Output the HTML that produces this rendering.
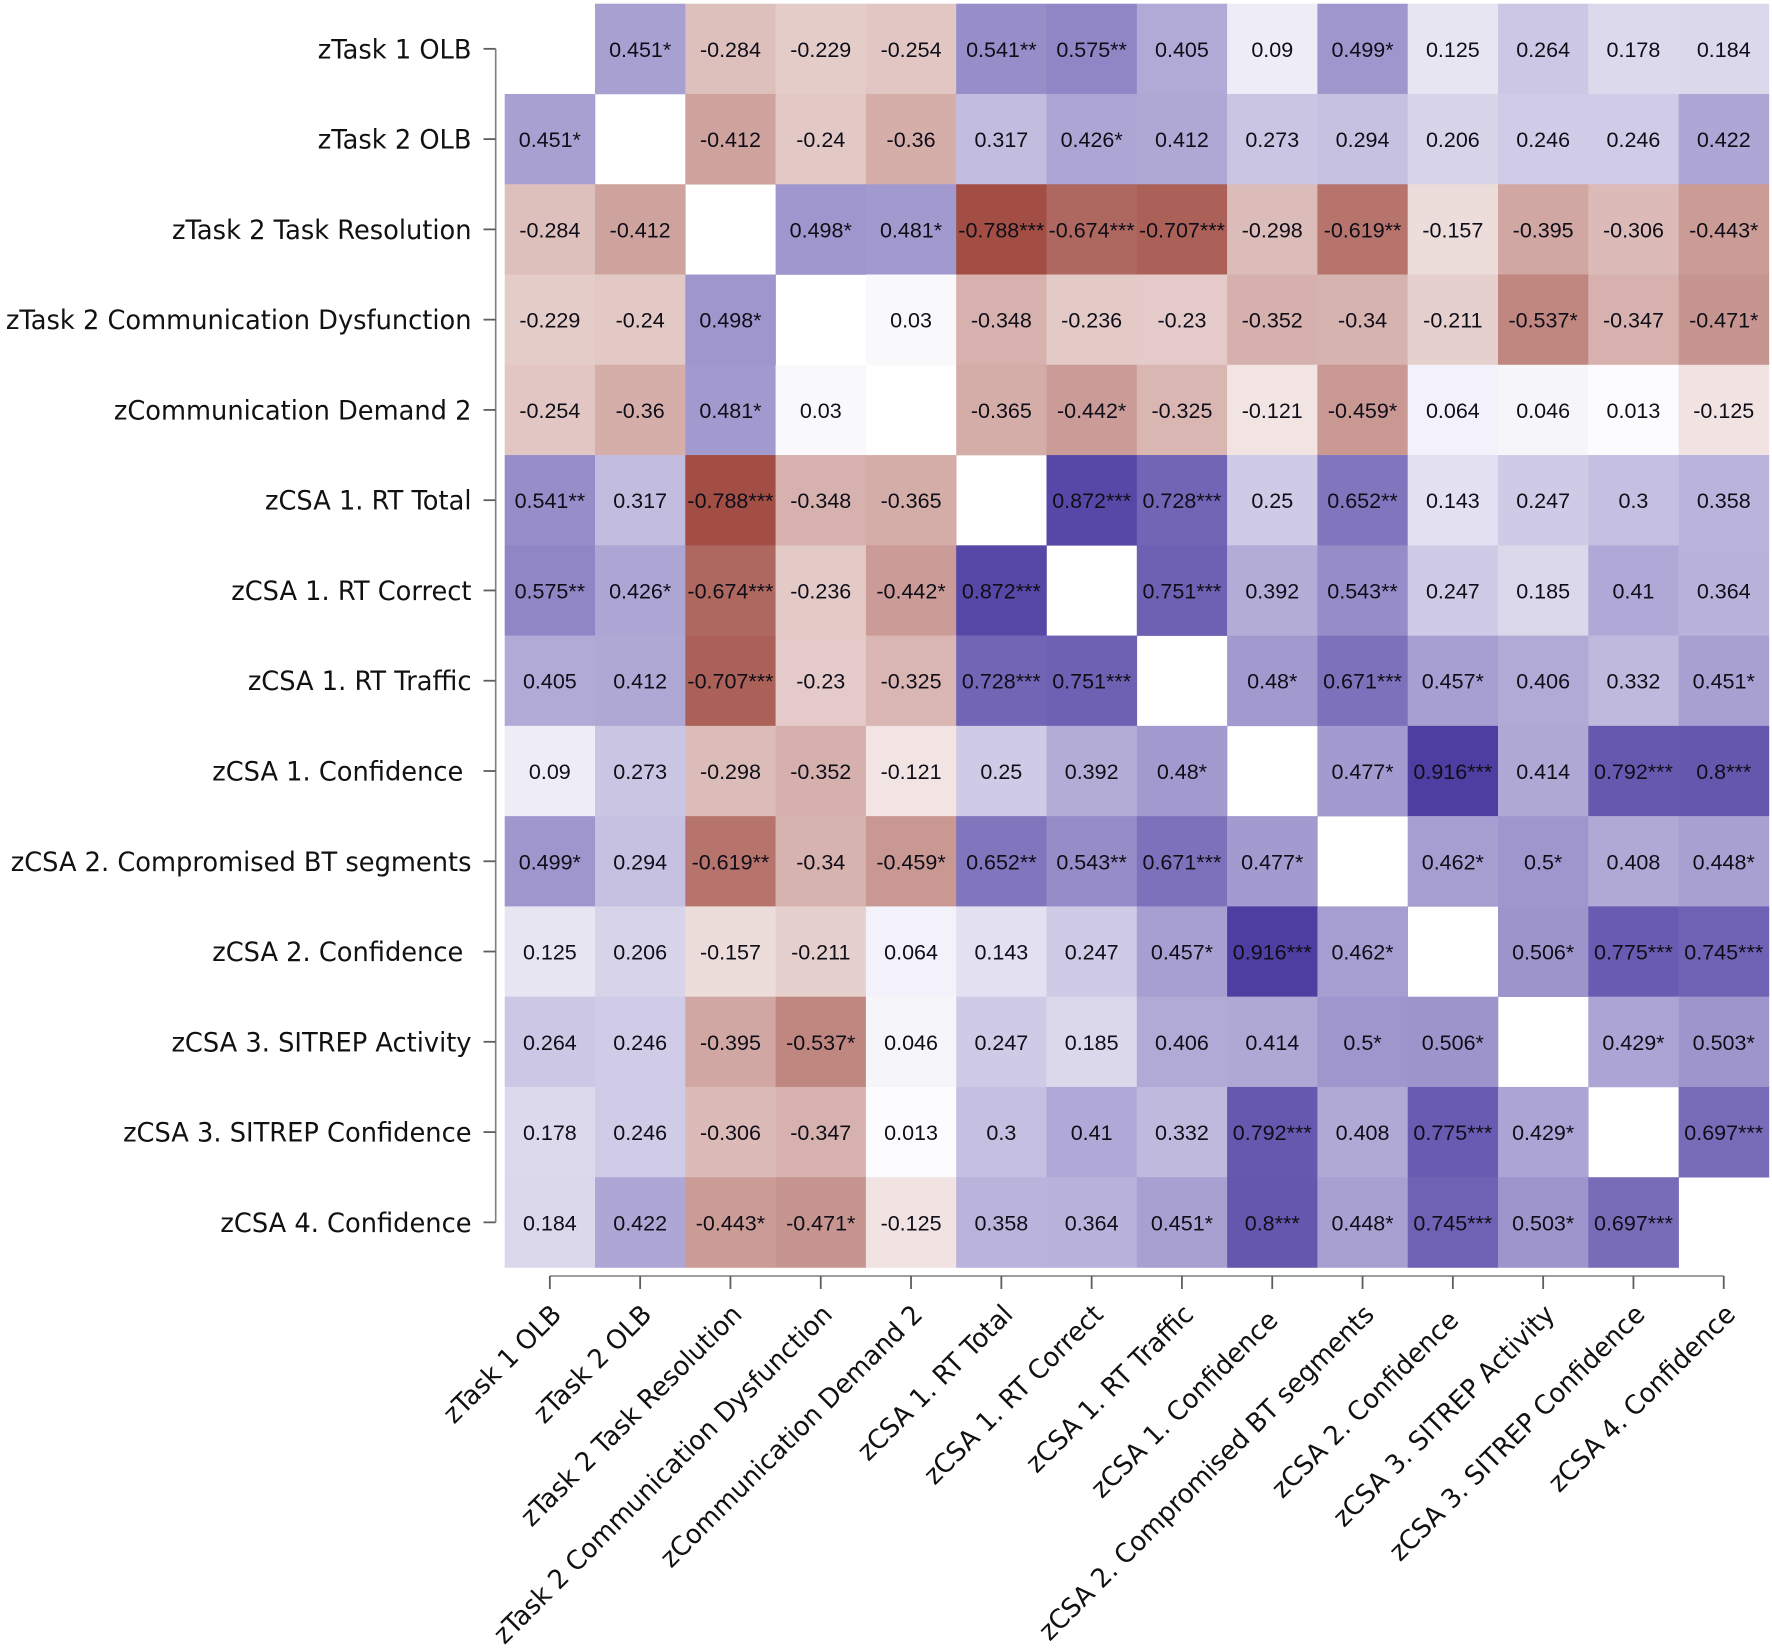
<!DOCTYPE html>
<html lang="en">
<head>
<meta charset="utf-8">
<title>Correlation heatmap</title>
<style>
html,body{margin:0;padding:0;background:#fff;}
svg{display:block;}
.cell-text{font-family:"Liberation Sans",Arial,sans-serif;font-size:21.5px;fill:#0f0e18;text-anchor:middle;}
.axis-label{font-family:"DejaVu Sans",sans-serif;font-size:26.5px;fill:#111;text-anchor:end;white-space:pre;}
</style>
</head>
<body>
<svg id="chart" xmlns="http://www.w3.org/2000/svg" width="1772" height="1649" viewBox="0 0 1772 1649">
  <rect width="1772" height="1649" fill="#ffffff"/>
  <g id="cells"></g>
  <g id="yaxis"></g>
  <g id="xaxis"></g>
</svg>
<script>
const rowLabels = ["zTask 1 OLB","zTask 2 OLB","zTask 2 Task Resolution","zTask 2 Communication Dysfunction","zCommunication Demand 2","zCSA 1. RT Total","zCSA 1. RT Correct","zCSA 1. RT Traffic","zCSA 1. Confidence ","zCSA 2. Compromised BT segments","zCSA 2. Confidence ","zCSA 3. SITREP Activity","zCSA 3. SITREP Confidence","zCSA 4. Confidence"];
const columnLabels = ["zTask 1 OLB","zTask 2 OLB","zTask 2 Task Resolution","zTask 2 Communication Dysfunction","zCommunication Demand 2","zCSA 1. RT Total","zCSA 1. RT Correct","zCSA 1. RT Traffic","zCSA 1. Confidence ","zCSA 2. Compromised BT segments","zCSA 2. Confidence ","zCSA 3. SITREP Activity","zCSA 3. SITREP Confidence","zCSA 4. Confidence"];
const cellValues = [
[null,0.451,-0.284,-0.229,-0.254,0.541,0.575,0.405,0.09,0.499,0.125,0.264,0.178,0.184],
[0.451,null,-0.412,-0.24,-0.36,0.317,0.426,0.412,0.273,0.294,0.206,0.246,0.246,0.422],
[-0.284,-0.412,null,0.498,0.481,-0.788,-0.674,-0.707,-0.298,-0.619,-0.157,-0.395,-0.306,-0.443],
[-0.229,-0.24,0.498,null,0.03,-0.348,-0.236,-0.23,-0.352,-0.34,-0.211,-0.537,-0.347,-0.471],
[-0.254,-0.36,0.481,0.03,null,-0.365,-0.442,-0.325,-0.121,-0.459,0.064,0.046,0.013,-0.125],
[0.541,0.317,-0.788,-0.348,-0.365,null,0.872,0.728,0.25,0.652,0.143,0.247,0.3,0.358],
[0.575,0.426,-0.674,-0.236,-0.442,0.872,null,0.751,0.392,0.543,0.247,0.185,0.41,0.364],
[0.405,0.412,-0.707,-0.23,-0.325,0.728,0.751,null,0.48,0.671,0.457,0.406,0.332,0.451],
[0.09,0.273,-0.298,-0.352,-0.121,0.25,0.392,0.48,null,0.477,0.916,0.414,0.792,0.8],
[0.499,0.294,-0.619,-0.34,-0.459,0.652,0.543,0.671,0.477,null,0.462,0.5,0.408,0.448],
[0.125,0.206,-0.157,-0.211,0.064,0.143,0.247,0.457,0.916,0.462,null,0.506,0.775,0.745],
[0.264,0.246,-0.395,-0.537,0.046,0.247,0.185,0.406,0.414,0.5,0.506,null,0.429,0.503],
[0.178,0.246,-0.306,-0.347,0.013,0.3,0.41,0.332,0.792,0.408,0.775,0.429,null,0.697],
[0.184,0.422,-0.443,-0.471,-0.125,0.358,0.364,0.451,0.8,0.448,0.745,0.503,0.697,null]
];
const cellStars = [
[0,1,0,0,0,2,2,0,0,1,0,0,0,0],
[1,0,0,0,0,0,1,0,0,0,0,0,0,0],
[0,0,0,1,1,3,3,3,0,2,0,0,0,1],
[0,0,1,0,0,0,0,0,0,0,0,1,0,1],
[0,0,1,0,0,0,1,0,0,1,0,0,0,0],
[2,0,3,0,0,0,3,3,0,2,0,0,0,0],
[2,1,3,0,1,3,0,3,0,2,0,0,0,0],
[0,0,3,0,0,3,3,0,1,3,1,0,0,1],
[0,0,0,0,0,0,0,1,0,1,3,0,3,3],
[1,0,2,0,1,2,2,3,1,0,1,1,0,1],
[0,0,0,0,0,0,0,1,3,1,0,1,3,3],
[0,0,0,1,0,0,0,0,0,1,1,0,1,1],
[0,0,0,0,0,0,0,0,3,0,3,1,0,3],
[0,0,1,1,0,0,0,1,3,1,3,1,3,0]
];

const SVG_NS = "http://www.w3.org/2000/svg";
const plotLeft = 504.7, plotTop = 3.7, cellW = 90.3, cellH = 90.27;
const xScale = i => plotLeft + i * cellW;
const yScale = j => plotTop + j * cellH;
const xCenter = i => xScale(i) + cellW / 2;
const yCenter = j => yScale(j) + cellH / 2;

function cellColor(v) {
  const end = v >= 0 ? [62, 44, 154] : [137, 31, 19];
  const t = Math.min(1, Math.abs(v));
  const c = end.map(e => Math.round(255 + (e - 255) * t));
  return "rgb(" + c.join(",") + ")";
}
function make(tag, attrs, parent) {
  const el = document.createElementNS(SVG_NS, tag);
  for (const k in attrs) el.setAttribute(k, attrs[k]);
  parent.appendChild(el);
  return el;
}

const cellsGroup = document.getElementById("cells");
cellValues.forEach((row, j) => {
  row.forEach((v, i) => {
    if (v === null) return;
    const rect = make("rect", {x: xScale(i), y: yScale(j), width: cellW + 0.3, height: cellH + 0.3, fill: cellColor(v)}, cellsGroup);
    
    
  });
});
cellValues.forEach((row, j) => {
  row.forEach((v, i) => {
    if (v === null) return;
    const txt = make("text", {x: xCenter(i), y: yCenter(j) + 8, "class": "cell-text"}, cellsGroup);
    txt.textContent = String(v) + "*".repeat(cellStars[j][i]);
    
    
  });
});

const axisColor = "#7f7f7f", tickColor = "#5e5e5e";
const labelScaleX = 0.97;

const yGroup = document.getElementById("yaxis");
const yLine = make("line", {x1: 495.7, x2: 495.7, y1: yCenter(0), y2: yCenter(rowLabels.length - 1), stroke: axisColor, "stroke-width": 1.6}, yGroup);


rowLabels.forEach((label, j) => {
  const tick = make("line", {x1: 483.5, x2: 495.7, y1: yCenter(j), y2: yCenter(j), stroke: tickColor, "stroke-width": 1.8}, yGroup);
  
  
  const t = make("text", {transform: "translate(471.5," + (yCenter(j) + 9.5) + ") scale(" + labelScaleX + ",1)", "class": "axis-label"}, yGroup);
  t.textContent = label;
  
  
});

const xGroup = document.getElementById("xaxis");
const xAxisY = 1276;
const xLine = make("line", {x1: xCenter(0), x2: xCenter(columnLabels.length - 1), y1: xAxisY, y2: xAxisY, stroke: axisColor, "stroke-width": 1.6}, xGroup);


columnLabels.forEach((label, i) => {
  const tick = make("line", {x1: xCenter(i), x2: xCenter(i), y1: xAxisY, y2: xAxisY + 13, stroke: tickColor, "stroke-width": 1.8}, xGroup);
  
  
  const t = make("text", {transform: "translate(" + (xCenter(i) + 13) + ",1316) rotate(-45) scale(" + labelScaleX + ",1)", "class": "axis-label"}, xGroup);
  t.textContent = label;
  
  
});
</script>
</body>
</html>
